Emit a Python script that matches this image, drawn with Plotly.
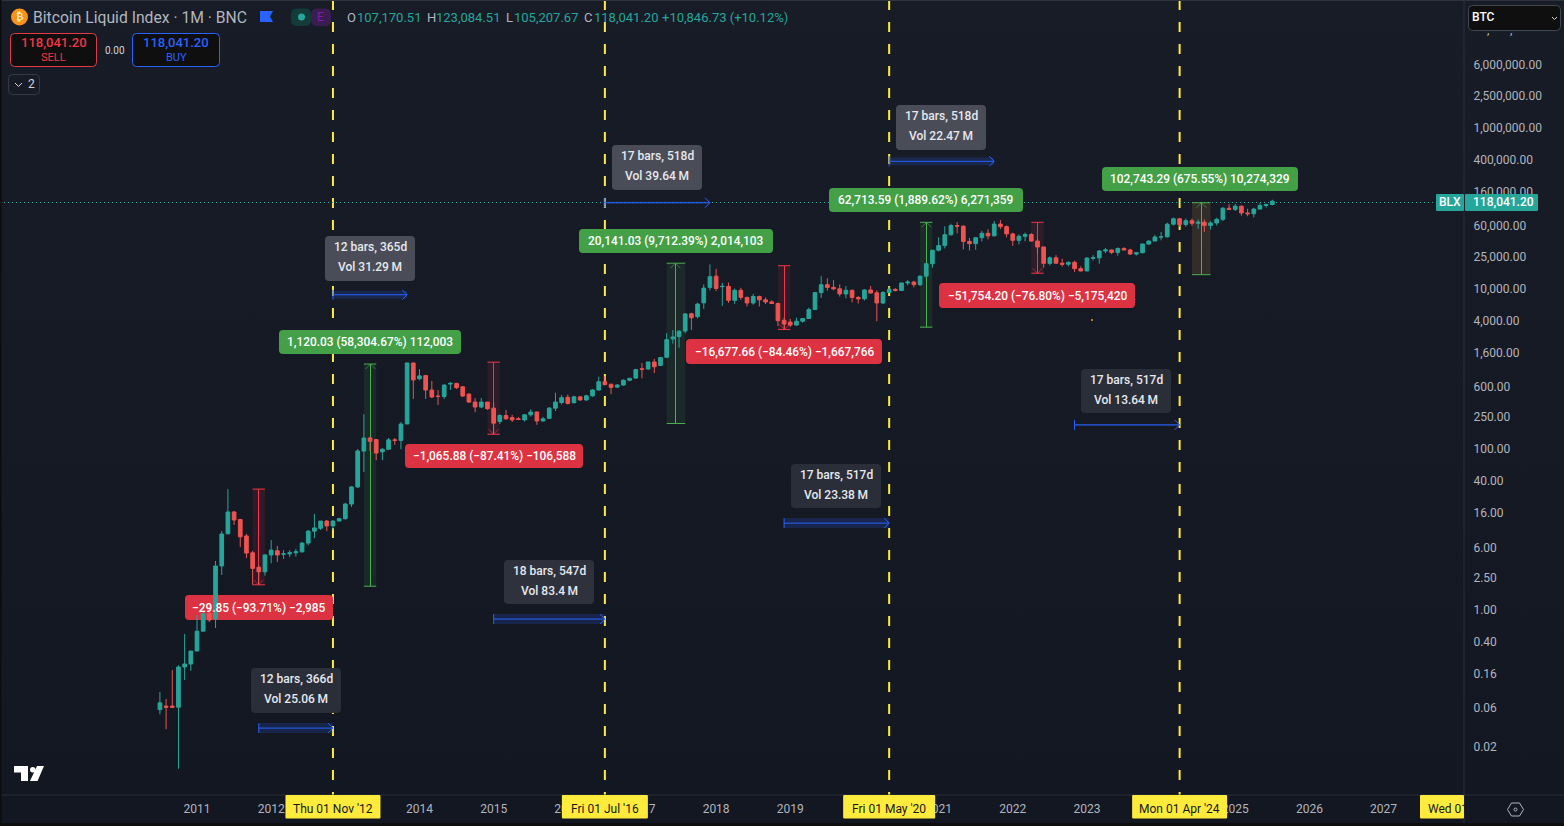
import plotly.graph_objects as go

# Monthly bars, Jul 2010 .. Jul 2025.  Index 0 = Jan 2011.
bar_index = list(range(-6, 175))

open_ = [
 0.056,0.062,0.062,0.060,0.190,0.207,
 0.30,0.53,0.87,0.75,3.43,8.6,16.1,13,8.1,5,3.3,2.9,
 4.7,5.3,4.8,4.85,5.0,5.15,6.6,9.3,10.1,12.4,10.8,12.4,
 13.3,20.2,33,92,134,128,90,97,127,125,200,1147,
 730,800,529,445,440,627,640,580,470,375,325,375,
 315,215,255,240,232,225,260,282,218,235,315,370,
 430,368,435,398,448,530,670,625,575,610,700,745,
 970,965,1180,1070,1350,2290,2450,2870,4700,4330,6430,10000,
 13800,10200,10300,6900,9200,7500,6400,7700,7000,6600,6300,3900,
 3700,3400,3800,4100,5300,8600,10800,10000,9600,8300,9200,7500,
 7200,9300,8550,6400,8650,9450,9150,11350,11650,10800,13800,19700,
 29000,33100,45200,58800,57700,37300,35000,41500,47100,43800,61300,57000,
 46300,38500,43200,45500,37700,31800,19900,23300,20000,19400,20500,17100,
 16000,23100,23300,28400,29200,27200,30500,29200,26000,27000,34600,37700,
 42300,42600,61100,71300,60600,67500,62700,64600,59000,63300,70200,96400,
 93400,102400,84300,82500,94200,104600,107170.51,
]
high = [
 0.093,0.076,0.174,0.200,0.490,0.300,
 0.84,1.12,1.10,3.96,9.3,31,16.5,13.2,8.6,5.3,3.5,4.8,
 7.2,6.1,5.4,5.4,5.6,6.8,9.6,15.2,12.4,12.8,12.8,13.6,
 20.9,33.8,97.7,265,138,130,100,134,134,211,1163,1163,
 960,815,685,530,620,665,650,590,485,420,420,375,
 375,265,300,260,245,265,305,285,245,325,490,460,
 465,450,440,462,545,775,790,630,625,720,745,970,
 1150,1190,1290,1360,2700,2950,2950,4750,4850,6450,10900,19300,
 17000,11400,11500,9700,9900,7700,8300,7900,7500,6900,6500,4200,
 4050,4200,4150,5600,8800,13800,13000,12300,10900,10400,9400,7800,
 9500,10400,9200,9000,10100,9800,11400,12300,12100,14000,19800,29300,
 41900,57500,61800,64900,59500,41300,42400,50500,52900,67000,69000,59000,
 47900,45800,48200,47400,40000,32000,24300,25200,22700,21000,21400,18300,
 23900,25200,29100,30900,29800,31400,31500,30200,27500,35100,38500,44700,
 48900,63900,73700,72700,71900,71900,70000,70000,66500,73600,99800,108300,
 109500,104000,95000,97900,111900,110500,123084.51,
]
low = [
 0.049,0.032,0.060,0.0103,0.131,0.170,
 0.30,0.53,0.69,0.58,2.65,8.6,11.1,5.9,4.3,2.0,2.0,2.6,
 3.7,3.85,4.2,4.45,4.5,5.0,6.2,7.6,9.6,9.3,9.7,12.4,
 12.9,18.6,32,50.6,92,71,71,95,110,97,200,410,
 700,410,420,345,410,530,545,435,365,280,315,300,
 150,200,225,212,225,215,247,195,215,235,290,350,
 350,360,388,388,435,520,600,470,560,600,680,735,
 740,950,860,1050,1330,2000,1780,2700,2950,4100,5400,9200,
 9000,5900,6400,6200,7000,5800,6100,5800,6200,6200,3300,3050,
 3200,3350,3650,4050,5300,7400,9100,9200,7700,7300,6500,6300,
 6900,8400,3800,6200,8450,8900,9000,10600,10000,10400,13200,17600,
 28100,30500,44000,47000,29700,28800,29300,37400,39600,43200,53000,42000,
 32900,34300,37500,37000,26000,17600,18800,19600,18200,18200,15500,15800,
 16000,21500,19700,26700,25900,24800,28900,25300,24900,26500,34000,37600,
 38500,41800,59000,56500,56800,58400,53500,49000,52500,58900,66800,91300,
 89200,78000,76600,74400,93300,98200,105207.67,
]
close = [
 0.068,0.060,0.060,0.190,0.207,0.300,
 0.53,0.87,0.73,3.43,8.57,16.1,12.8,7.9,4.96,3.2,2.9,4.7,
 5.4,4.7,4.85,5.0,5.15,6.6,9.3,10.2,12.4,10.8,12.4,13.3,
 20.2,33,92.3,134,122,87,97,127,125,200,1147,706,
 793,529,433,440,610,640,565,445,375,325,375,310,
 205,255,232,225,228,260,282,218,232,315,375,425,
 360,435,398,448,530,670,620,570,610,700,740,950,
 960,1180,1030,1340,2240,2420,2850,4680,4200,6200,9800,13600,
 9700,10300,6900,9200,7500,6400,7700,7000,6600,6300,3850,3500,
 3400,3800,4100,5300,8600,10800,10000,9600,8300,9200,7500,7200,
 9300,8500,6400,8650,9450,9150,11350,11650,10800,13800,19700,29000,
 33100,45200,58800,57700,37300,35000,41500,47100,43800,61300,57000,46300,
 38500,43200,45500,37700,31800,19900,23300,20000,19400,20500,17100,16000,
 23100,23300,28400,29200,27200,30500,29200,26000,27000,34600,37700,42300,
 42600,61100,71300,60600,67500,62700,64600,59000,63300,70200,96400,93400,
 102400,84300,82500,94200,104600,107200,118041.20,
]
assert len(open_) == len(high) == len(low) == len(close) == len(bar_index)

year_ticks = [0,12,24,36,48,60,72,84,96,108,120,132,144,156,168,180,192]
year_labels = ["2011","2012","2013","2014","2015","2016","2017","2018","2019","2020",
               "2021","2022","2023","2024","2025","2026","2027"]
price_ticks = [6000000,2500000,1000000,400000,160000,60000,25000,10000,4000,1600,
               600,250,100,40,16,6,2.5,1,0.4,0.16,0.06,0.02]
price_labels = ["6,000,000.00","2,500,000.00","1,000,000.00","400,000.00","160,000.00",
                "60,000.00","25,000.00","10,000.00","4,000.00","1,600.00","600.00","250.00","100.00",
                "40.00","16.00","6.00","2.50","1.00","0.40","0.16","0.06","0.02"]

# Date lines: bar index and label
date_bars = [22, 66, 112, 159]
date_labels = ["Thu 01 Nov '12", "Fri 01 Jul '16", "Fri 01 May '20", "Mon 01 Apr '24"]

# Price-range measures: first bar, last bar, price top, price bottom, direction
measure_first = [9, 27, 47, 76, 94, 117, 135, 161]
measure_last = [11, 29, 49, 79, 96, 119, 137, 164]
measure_top = [31, 1114, 1175, 20000, 18600, 64500, 64500, 113000]
measure_bottom = [2.0, 1.92, 149, 203, 3000, 3200, 15000, 14400]
measure_up = [False, True, False, True, False, True, False, True]
measure_text = ["−29.85 (−93.71%) −2,985", "1,120.03 (58,304.67%) 112,003",
                "−1,065.88 (−87.41%) −106,588", "20,141.03 (9,712.39%) 2,014,103",
                "−16,677.66 (−84.46%) −1,667,766", "62,713.59 (1,889.62%) 6,271,359",
                "−51,754.20 (−76.80%) −5,175,420", "102,743.29 (675.55%) 10,274,329"]

# Date-range measures
span_first = [10, 22, 48, 66, 95, 112, 142]
span_last = [22, 34, 66, 83, 112, 129, 159]
span_price = [0.033, 8100, 0.75, 113000, 11.7, 370000, 195]
span_bars = ["12 bars, 366d", "12 bars, 365d", "18 bars, 547d", "17 bars, 518d",
             "17 bars, 517d", "17 bars, 518d", "17 bars, 517d"]
span_vol = ["Vol 25.06\u2009M", "Vol 31.29\u2009M", "Vol 83.4\u2009M", "Vol 39.64\u2009M",
            "Vol 23.38\u2009M", "Vol 22.47\u2009M", "Vol 13.64\u2009M"]

# ---- geometry of the frame
W, H = 1564, 826
PLOT_W, PLOT_H = 1464, 795
PX_PER_BAR = 6.18
XMIN = -197 / PX_PER_BAR
XMAX = (PLOT_W - 197) / PX_PER_BAR
YMIN, YMAX = -186 / 80.4, 609 / 80.4
PER_PX_Y = 10 ** (1 / 80.4)

UP, DOWN = "#26a69a", "#ef5350"
RED, GREEN, BLUE, YEL = "#f23645", "#4caf50", "#2962ff", "#ffeb3b"
FONT = "Roboto"
AX = "#2a2e39"
TXT = "#b2b5be"


def PX(x):
    return x / PLOT_W


def PY(y):
    return 1 - y / PLOT_H


def rr(x0, y0, x1, y1, r=4):
    a, b, c, d = PX(x0), PY(y0), PX(x1), PY(y1)
    rx, ry = r / PLOT_W, r / PLOT_H
    return (f"M{a+rx},{b} L{c-rx},{b} Q{c},{b} {c},{b-ry} L{c},{d+ry} Q{c},{d} {c-rx},{d} "
            f"L{a+rx},{d} Q{a},{d} {a},{d+ry} L{a},{b-ry} Q{a},{b} {a+rx},{b} Z")


def poly(pts, close_it=False):
    s = "M" + " L".join(f"{PX(x)},{PY(y)}" for x, y in pts)
    return s + (" Z" if close_it else "")


shapes, anns = [], []


def pshape(path, fill=None, line=None, lw=0, layer="above"):
    shapes.append(dict(type="path", xref="paper", yref="paper", path=path, layer=layer,
                       fillcolor=fill if fill else "rgba(0,0,0,0)",
                       line=dict(color=line if line else "rgba(0,0,0,0)", width=lw)))


def text(x, y, s, size=13, color="#ffffff", anchor="left", family=FONT, weight=None):
    font = dict(family=family, size=size, color=color)
    if weight:
        font["weight"] = weight
    anns.append(dict(xref="paper", yref="paper", x=PX(x), y=PY(y), text=s, showarrow=False,
                     xanchor=anchor, yanchor="middle", borderpad=0, borderwidth=0, font=font))


def bar_px(i):
    return 197 + PX_PER_BAR * i


def crisp_bar(i):
    # bar position that falls on the middle of a screen pixel, so 1px lines stay sharp
    return (int(bar_px(i)) + 0.5 - 197) / PX_PER_BAR


# date lines (behind everything)
for b in date_bars:
    shapes.append(dict(type="line", xref="paper", yref="paper", layer="below",
                       x0=PX(bar_px(b)), x1=PX(bar_px(b)), y0=1, y1=0,
                       line=dict(color=YEL, width=2, dash="10px,12px")))

# last price line
shapes.append(dict(type="line", xref="paper", yref="paper", layer="below",
                   x0=0, x1=PX(1436), y0=PY(202.5), y1=PY(202.5),
                   line=dict(color=UP, width=1, dash="1px,3px")))

# measure label boxes
measure_label_pos = [(185, 333, 595, 620), (279, 461, 330, 354), (405, 583, 444, 468),
                     (579, 773, 229, 253), (686, 882, 339, 364), (829, 1023, 188, 212),
                     (939, 1135, 283, 308), (1102, 1298, 167, 191)]
for (x0, x1, y0, y1), s, up in zip(measure_label_pos, measure_text, measure_up):
    pshape(rr(x0, y0, x1, y1), fill="#43a047" if up else "#dd3241", layer="below")
    text((x0 + x1) / 2, (y0 + y1) / 2, s, size=11.9, anchor="center", weight=500)

# price measures
for x0, x1, top, bot, up in zip(measure_first, measure_last, measure_top, measure_bottom, measure_up):
    col = GREEN if up else RED
    rgb = "76,175,80" if up else "242,54,69"
    band = f"rgba({rgb},0.11)"
    if x0 == 161:
        band = "rgba(200,140,60,0.16)"
    mid = crisp_bar((x0 + x1) / 2)
    shapes.append(dict(type="rect", xref="x", yref="y", layer="below", x0=x0, x1=x1, y0=bot, y1=top,
                       fillcolor=band, line=dict(width=0)))
    for y in (top, bot):
        shapes.append(dict(type="line", xref="x", yref="y", layer="below", x0=x0, x1=x1, y0=y, y1=y,
                           line=dict(color=col, width=1)))
    shapes.append(dict(type="line", xref="x", yref="y", layer="below", x0=mid, x1=mid, y0=bot, y1=top,
                       line=dict(color=col, width=1)))
    tip, f = (top, PER_PX_Y ** -5) if up else (bot, PER_PX_Y ** 5)
    for dx in (-0.8, 0.8):
        shapes.append(dict(type="line", xref="x", yref="y", layer="below", x0=mid + dx, x1=mid,
                           y0=tip * f, y1=tip, line=dict(color=f"rgba({rgb},0.6)", width=1)))

# date-range measures
span_box = [(251, 341, 668, 713), (325, 415, 236, 281), (504, 594, 560, 604), (612, 702, 145, 190),
            (791, 881, 464, 508), (896, 986, 105, 150), (1081, 1171, 369, 413)]
span_fill = ["#2a2e39", "#4a4d57", "#2f323d", "#4a4d57", "#2a2e39", "#4a4d57", "#2a2e39"]
span_band = [5, 4, 5, 1, 5, 4, 1]
for x0, x1, p, bh in zip(span_first, span_last, span_price, span_band):
    hi, lo = p * PER_PX_Y ** bh, p * PER_PX_Y ** -bh
    shapes.append(dict(type="rect", xref="x", yref="y", layer="below", x0=x0, x1=x1, y0=lo, y1=hi,
                       fillcolor="rgba(41,98,255,0.18)", line=dict(width=0)))
    shapes.append(dict(type="line", xref="x", yref="y", layer="below", x0=x0, x1=x1, y0=p, y1=p,
                       line=dict(color=BLUE, width=1)))
    shapes.append(dict(type="line", xref="x", yref="y", layer="below", x0=x0, x1=x0,
                       y0=p * PER_PX_Y ** -5, y1=p * PER_PX_Y ** 5, line=dict(color=BLUE, width=1)))
    for s in (-1, 1):
        shapes.append(dict(type="line", xref="x", yref="y", layer="below", x0=x1 - 0.8, x1=x1,
                           y0=p * PER_PX_Y ** (5 * s), y1=p, line=dict(color=BLUE, width=1)))
for (x0, x1, y0, y1), a, b, fc in zip(span_box, span_bars, span_vol, span_fill):
    pshape(rr(x0, y0, x1, y1), fill=fc, layer="below")
    text((x0 + x1) / 2, y0 + 11, a, size=12, color="#e6e8ee", anchor="center", weight=500)
    text((x0 + x1) / 2, y0 + 31, b, size=12, color="#e6e8ee", anchor="center", weight=500)

# small stray dot
pshape(rr(1091, 319, 1093, 321, 1), fill="#f7931a", layer="below")

# ---- chrome
pshape(poly([(0, 795), (W, 795)]), line=AX, lw=1)
pshape(poly([(1464, 0), (1464, 823)]), line=AX, lw=1)
pshape(poly([(0, 0.5), (W, 0.5)]), line="#2f333d", lw=1)
shapes.append(dict(type="rect", xref="paper", yref="paper", layer="above",
                   x0=0, x1=PX(W), y0=PY(823), y1=PY(H), fillcolor="#0d0d0f", line=dict(width=0)))
shapes.append(dict(type="rect", xref="paper", yref="paper", layer="above",
                   x0=0, x1=PX(1.5), y0=PY(0), y1=PY(H), fillcolor="#0d0d0f", line=dict(width=0)))

# date badges on the time axis
for b, s in zip(date_bars, date_labels):
    c = bar_px(b)
    half = 47.5 if s[0] == "T" else (43 if "Jul" in s else (46 if "May" in s else 47.5))
    pshape(rr(c - half, 795, c + half, 818.5, 1), fill=YEL)
    text(c, 808.5, s, size=12, color="#131722", anchor="center")
pshape(rr(1420, 795, 1464, 818.5, 1), fill=YEL)
text(1428, 808.5, "Wed 01", size=12, color="#131722")

# legend line
shapes.append(dict(type="circle", xref="paper", yref="paper", layer="above",
                   x0=PX(11), x1=PX(28), y0=PY(25.5), y1=PY(8.5), fillcolor="#f7931a", line=dict(width=0)))
text(19.5, 17, "₿", size=11, color="#ffffff", anchor="center", family="DejaVu Sans")
text(33, 18, "Bitcoin Liquid Index · 1M · BNC", size=15.7, color=TXT)
pshape(poly([(260, 11), (273, 11), (270, 16.5), (273, 22), (260, 22)], True), fill=BLUE)
pshape(rr(291, 8.5, 311, 26, 6), fill="#123b3a")
pshape(rr(311, 8.5, 331, 26, 6), fill="#3a1e52")
shapes.append(dict(type="circle", xref="paper", yref="paper", layer="above",
                   x0=PX(298), x1=PX(305), y0=PY(20.5), y1=PY(13.5), fillcolor=UP, line=dict(width=0)))
text(320, 17.5, "E", size=12, color="#7b1fa2", anchor="center")
for x, lab, val in [(347, "O", "107,170.51"), (426.5, "H", "123,084.51"), (506, "L", "105,207.67"), (584, "C", "118,041.20")]:
    text(x, 17.5, lab, size=13, color=TXT)
    text(x + (8 if lab == "L" else 9.5), 17.5, val, size=13, color=UP)
text(662, 17.5, "+10,846.73 (+10.12%)", size=13, color=UP)

# sell / buy
pshape(rr(10.5, 33.5, 96.5, 66.5), fill="#0f0f0f", line="#e53945", lw=1)
pshape(rr(132.5, 33.5, 219.5, 66.5), fill="#0f0f0f", line=BLUE, lw=1)
text(53.5, 43, "118,041.20", size=13, color=RED, anchor="center", weight=500)
text(53.5, 57.5, "SELL", size=11, color=RED, anchor="center")
text(176, 43, "118,041.20", size=13, color=BLUE, anchor="center", weight=500)
text(176, 57.5, "BUY", size=11, color=BLUE, anchor="center")
text(115, 50.5, "0.00", size=10, color="#d1d4dc", anchor="center")

# collapsed indicators
pshape(rr(8.5, 74.5, 39.5, 94.5), fill="rgba(0,0,0,0)", line="#363a45", lw=1)
pshape(poly([(15, 83), (18.5, 86.5), (22, 83)]), line="#d1d4dc", lw=1)
text(31, 84.5, "2", size=12, color="#d1d4dc", anchor="center")

# symbol select, with the bottom of a price label peeping out beneath it
pshape(rr(1468.5, 5.5, 1560.5, 30.5), fill="#0f0f0f", line="#434651", lw=1)
text(1472, 17.5, "BTC", size=12, color="#ffffff", weight=500)
pshape(poly([(1552, 17), (1554.5, 19.5), (1557, 17)]), line="#d1d4dc", lw=1)
text(1487.5, 30.5, ",", size=12, color=TXT, anchor="center")
text(1510.5, 30.5, ",", size=12, color=TXT, anchor="center")

# last price badges
pshape(rr(1436, 194, 1464, 211, 1), fill=UP)
text(1450, 202, "BLX", size=12, color="#ffffff", anchor="center", weight=500)
pshape(rr(1465, 194, 1538, 211, 1), fill=UP)
text(1473, 202, "118,041.20", size=12, color="#ffffff", weight=500)

# TradingView mark
pshape(poly([(14, 766), (28, 766), (28, 781), (21, 781), (21, 772.5), (14, 772.5)], True), fill="#ffffff")
pshape(poly([(37, 766), (44, 766), (37.5, 781), (30, 781)], True), fill="#ffffff")
shapes.append(dict(type="circle", xref="paper", yref="paper", layer="above",
                   x0=PX(30), x1=PX(35.5), y0=PY(772.5), y1=PY(767), fillcolor="#ffffff", line=dict(width=0)))

# settings icon
pshape(poly([(1507.5, 809.5), (1511.5, 803), (1519.5, 803), (1523.5, 809.5), (1519.5, 816), (1511.5, 816)], True),
       line="#b2b5be", lw=1)
shapes.append(dict(type="circle", xref="paper", yref="paper", layer="above",
                   x0=PX(1514), x1=PX(1517), y0=PY(811), y1=PY(808),
                   fillcolor="rgba(0,0,0,0)", line=dict(color="#b2b5be", width=1)))

fig = go.Figure(go.Candlestick(
    x=bar_index, open=open_, high=high, low=low, close=close,
    increasing=dict(line=dict(color=UP, width=1), fillcolor=UP),
    decreasing=dict(line=dict(color=DOWN, width=1), fillcolor=DOWN),
    whiskerwidth=0, showlegend=False,
))

fig.update_layout(
    width=W, height=H,
    margin=dict(l=0, r=W - PLOT_W, t=0, b=H - PLOT_H, pad=0),
    paper_bgcolor="rgba(0,0,0,0)", plot_bgcolor="rgba(0,0,0,0)",
    font=dict(family=FONT, size=12, color=TXT),
    boxgap=0.15,
    shapes=shapes, annotations=anns,
    xaxis=dict(range=[XMIN, XMAX], tickmode="array", tickvals=year_ticks, ticktext=year_labels,
               showgrid=False, zeroline=False, showline=False, rangeslider=dict(visible=False),
               ticks="outside", ticklen=3, tickcolor="rgba(0,0,0,0)", tickangle=0,
               tickfont=dict(family=FONT, size=12, color=TXT)),
    yaxis=dict(type="log", range=[YMIN, YMAX], side="right", tickmode="array",
               tickvals=price_ticks, ticktext=price_labels, showgrid=False, zeroline=False, showline=False,
               ticks="outside", ticklen=6, tickcolor="rgba(0,0,0,0)", ticklabelshift=1,
               tickfont=dict(family=FONT, size=12, color=TXT)),
)

page_style = ("document.documentElement.style.height='100%';"
              "document.body.style.margin='0';document.body.style.overflow='hidden';"
              "document.body.style.height='100%';"
              "document.body.style.background='linear-gradient(#181c27,#131722)';")
fig.write_html("out.html", post_script=page_style, config={"displayModeBar": False})
